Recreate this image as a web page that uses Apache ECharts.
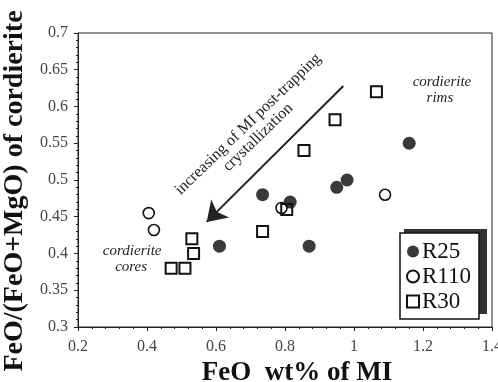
<!DOCTYPE html>
<html>
<head>
<meta charset="utf-8">
<script src="https://cdn.jsdelivr.net/npm/echarts@6/dist/echarts.min.js"></script>
<style>
  html, body { margin: 0; padding: 0; background: #fff; }
  #main { width: 498px; height: 382px; }
</style>
</head>
<body>
<div id="main"></div>
<script>
  // data
  var r25 = [[0.61, 0.41], [0.735, 0.48], [0.815, 0.47], [0.87, 0.41], [0.95, 0.49], [0.98, 0.50], [1.16, 0.55]];
  var r110 = [[0.405, 0.455], [0.42, 0.432], [0.79, 0.462], [1.09, 0.48]];
  var r30 = [[0.47, 0.38], [0.51, 0.38], [0.53, 0.42], [0.535, 0.40], [0.735, 0.43], [0.805, 0.46], [0.855, 0.54], [0.945, 0.582], [1.065, 0.62]];
  var arrowFrom = [0.969, 0.628];
  var arrowTo = [0.573, 0.443];

  var serif = '"Liberation Serif", "DejaVu Serif", serif';
  var axisColor = '#222';

  var myChart = echarts.init(document.getElementById('main'));

  var option = {
    animation: false,
    backgroundColor: '#fff',
    grid: {
      left: 78, top: 33, right: 6, bottom: 55,
      containLabel: false, outerBoundsMode: 'none',
      show: true, borderColor: axisColor, borderWidth: 1
    },
    xAxis: {
      type: 'value',
      min: 0.2, max: 1.4, interval: 0.2,
      name: 'FeO  wt% of MI',
      nameLocation: 'middle',
      nameGap: 24,
      nameTextStyle: { fontFamily: serif, fontWeight: 'bold', fontSize: 27, color: '#111', padding: [0, 0, 0, 24] },
      axisLine: { lineStyle: { color: axisColor, width: 1 } },
      axisTick: { show: true, length: 4, lineStyle: { color: axisColor } },
      minorTick: { show: true, splitNumber: 5, length: 2, lineStyle: { color: axisColor } },
      axisLabel: { fontFamily: serif, fontSize: 16, color: '#444', margin: 12 },
      splitLine: { show: false }
    },
    yAxis: {
      type: 'value',
      min: 0.3, max: 0.7, interval: 0.05,
      name: 'FeO/(FeO+MgO) of cordierite',
      nameLocation: 'middle',
      nameGap: 46,
      nameTextStyle: { fontFamily: serif, fontWeight: 'bold', fontSize: 28, color: '#111', padding: [0, 22, 0, 0] },
      axisLine: { lineStyle: { color: axisColor, width: 1 } },
      axisTick: { show: true, length: 4, lineStyle: { color: axisColor } },
      minorTick: { show: true, splitNumber: 5, length: 2, lineStyle: { color: axisColor } },
      axisLabel: { fontFamily: serif, fontSize: 16, color: '#444', margin: 10 },
      splitLine: { show: false }
    },
    legend: {
      orient: 'vertical',
      left: 400, top: 233,
      padding: [7, 8, 6, 6],
      itemGap: 2,
      itemWidth: 12, itemHeight: 12,
      backgroundColor: '#fff',
      borderColor: '#111', borderWidth: 1.5,
      z: 20,
      textStyle: { fontFamily: serif, fontSize: 23, color: '#111', lineHeight: 22, padding: [0, 0, 0, -2] },
      data: ['R25', 'R110', 'R30']
    },
    series: [
      {
        name: 'R25', type: 'scatter', symbol: 'circle', symbolSize: 13,
        itemStyle: { color: '#3a3a3a', opacity: 1 },
        data: r25,
        markLine: {
          silent: true,
          symbol: ['none', 'arrow'],
          symbolSize: 19,
          label: { show: false },
          lineStyle: { color: '#222', width: 2, type: 'solid' },
          data: [[{ coord: arrowFrom }, { coord: arrowTo }]]
        },
        z: 3
      },
      {
        name: 'R110', type: 'scatter', symbol: 'circle', symbolSize: 11,
        itemStyle: { color: 'rgba(255,255,255,0)', borderColor: '#111', borderWidth: 1.6, opacity: 1 },
        data: r110, z: 4
      },
      {
        name: 'R30', type: 'scatter', symbol: 'rect', symbolSize: 11,
        itemStyle: { color: 'rgba(255,255,255,0)', borderColor: '#111', borderWidth: 2, opacity: 1 },
        data: r30, z: 4
      }
    ]
  };
  myChart.setOption(option);

  // annotation texts, placed in data coordinates
  var notes = [
    { text: 'increasing of MI post-trapping', at: [0.693, 0.576], rot: 44, italic: false },
    { text: 'crystallization', at: [0.722, 0.558], rot: 44, italic: false },
    { text: 'cordierite', at: [1.255, 0.633], rot: 0, italic: true },
    { text: 'rims', at: [1.249, 0.612], rot: 0, italic: true },
    { text: 'cordierite', at: [0.357, 0.403], rot: 0, italic: true },
    { text: 'cores', at: [0.354, 0.382], rot: 0, italic: true }
  ];
  var graphics = notes.map(function (n) {
    var p = myChart.convertToPixel({ gridIndex: 0 }, n.at);
    return {
      type: 'text', x: p[0], y: p[1], rotation: n.rot * Math.PI / 180, z: 10,
      style: {
        text: n.text, fontFamily: serif, fontSize: n.italic ? 15 : 16,
        fontStyle: n.italic ? 'italic' : 'normal', fill: '#222',
        align: 'center', verticalAlign: 'middle'
      }
    };
  });
  // dark drop shadow behind the legend box
  graphics.push({
    type: 'rect', z: 5,
    shape: { x: 404, y: 229, width: 83, height: 85 },
    style: { fill: '#333' }
  });
  myChart.setOption({ graphic: graphics });
</script>
</body>
</html>
